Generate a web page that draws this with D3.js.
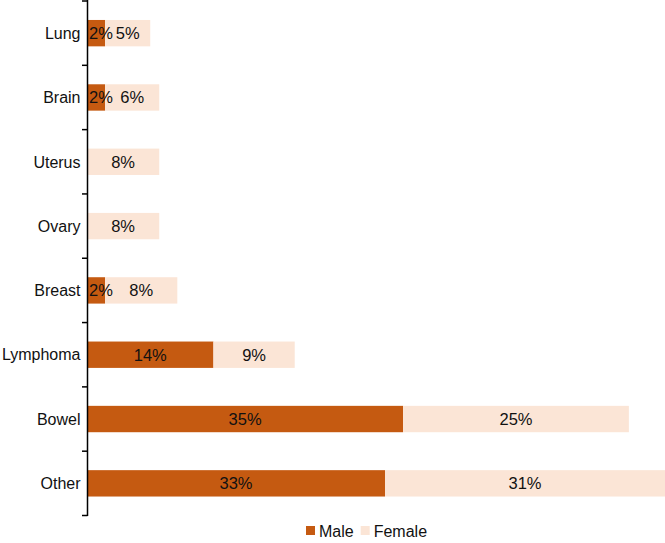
<!DOCTYPE html>
<html><head><meta charset="utf-8">
<script src="https://cdn.jsdelivr.net/npm/d3@7"></script>
<style>body{margin:0;background:#fff}svg{display:block}</style>
</head><body>
<script>
const categories = ["Lung","Brain","Uterus","Ovary","Breast","Lymphoma","Bowel","Other"];
const male = [2,2,0,0,2,14,35,33];
const female = [5,6,8,8,8,9,25,31];
const seriesNames = ["Male","Female"];
const colors = ["#C55A11","#FBE5D6"];

const W = 665, H = 543;
const svg = d3.select("body").append("svg").attr("width",W).attr("height",H);
const font = "'Liberation Sans', Arial, Helvetica, sans-serif";

const x = d3.scaleLinear().domain([0, 64]).range([87, 665]);
const y = d3.scaleBand().domain(categories).range([1, 515.5]).paddingInner(0.59).paddingOuter(0.295);

const data = categories.map((c,i)=>({cat:c, Male:male[i], Female:female[i]}));
const stack = d3.stack().keys(seriesNames)(data);

const barsG = svg.append("g");
const labelsG = svg.append("g");
stack.forEach((s,si)=>{
  barsG.append("g").selectAll("rect").data(s).join("rect")
    .attr("x", d=>x(d[0])).attr("width", d=>x(d[1])-x(d[0]))
    .attr("y", d=>y(d.data.cat)).attr("height", y.bandwidth())
    .attr("fill", colors[si]);
  labelsG.append("g").selectAll("text").data(s.filter(d=>d[1]-d[0]>0)).join("text")
    .attr("y", d=>y(d.data.cat)+y.bandwidth()/2)
    .attr("dy","0.36em")
    .attr("font-family",font).attr("font-size",16.5).attr("fill","#111")
    .text(d=>(d[1]-d[0])+"%")
    .each(function(d){
      const w = this.getComputedTextLength();
      const seg = x(d[1])-x(d[0]);
      const el = d3.select(this);
      if (w > seg) el.attr("x", x(d[0])+2).attr("text-anchor","start");
      else el.attr("x", (x(d[0])+x(d[1]))/2).attr("text-anchor","middle");
    });
});

// axis
const yb = d3.scaleBand().domain(categories).range([1,515.5]);
const ax = svg.append("g");
ax.append("line").attr("x1",87.5).attr("x2",87.5).attr("y1",0).attr("y2",516).attr("stroke","#000").attr("stroke-width",1.5);
const bounds = categories.map(c=>yb(c)).concat([yb(categories[categories.length-1])+yb.bandwidth()]);
ax.selectAll("line.t").data(bounds).join("line").attr("class","t")
  .attr("x1",82).attr("x2",87.5).attr("y1",d=>d).attr("y2",d=>d).attr("stroke","#000").attr("stroke-width",1.5);
ax.selectAll("text").data(categories).join("text")
  .attr("x",80.5).attr("y",d=>y(d)+y.bandwidth()/2).attr("dy","0.36em")
  .attr("text-anchor","end").attr("font-family",font).attr("font-size",16).attr("fill","#111")
  .text(d=>d);

// legend
const lg = svg.append("g");
let lx = 306;
seriesNames.forEach((n,i)=>{
  lg.append("rect").attr("x",lx).attr("y",526).attr("width",9).attr("height",9).attr("fill",colors[i]);
  const t = lg.append("text").attr("x",lx+13).attr("y",531).attr("dy","0.36em")
    .attr("font-family",font).attr("font-size",16).attr("fill","#111").text(n);
  lx += 13 + t.node().getComputedTextLength() + 7;
});
</script>
</body></html>
